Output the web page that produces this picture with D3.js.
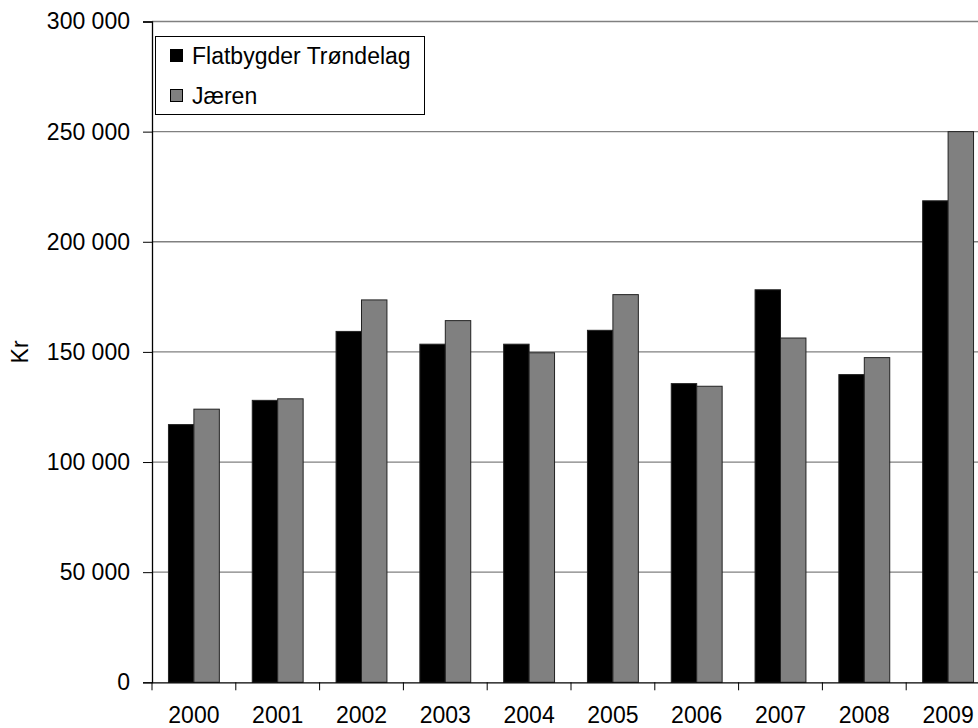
<!DOCTYPE html>
<html>
<head>
<meta charset="utf-8">
<script src="https://cdn.jsdelivr.net/npm/d3@7"></script>
<style>
  body { margin: 0; background: #fff; }
  text { font-family: Arial, "Liberation Sans", sans-serif; }
</style>
</head>
<body>
<div id="chart"></div>
<script>
// chart data
var years = ["2000", "2001", "2002", "2003", "2004", "2005", "2006", "2007", "2008", "2009"];
var seriesNames = ["Flatbygder Trøndelag", "Jæren"];
var trondelag = [117000, 128000, 159300, 153500, 153500, 159800, 135600, 178200, 139700, 218600];
var jaeren = [124000, 128700, 173600, 164200, 149600, 176000, 134400, 156300, 147400, 250000];
var yTicks = [0, 50000, 100000, 150000, 200000, 250000, 300000];
var colors = ["#000000", "#808080"];

var w = 978;
var h = 728;
var fontSize = 23;

var svg = d3.select("#chart").append("svg")
  .attr("width", w)
  .attr("height", h);

var plotLeft = 152, plotRight = 990, plotTop = 21.5, plotBottom = 682.3;

var x = d3.scaleBand().domain(years).range([plotLeft, plotRight]);
var x1 = d3.scaleBand().domain(seriesNames).range([0, x.bandwidth()]).paddingOuter(0.647);
var y = d3.scaleLinear().domain([0, 300000]).range([plotBottom, plotTop]);

var fmt = function(d) { return d3.format(",")(d).replace(/,/g, " "); };

// gridlines
svg.append("g").selectAll("line")
  .data(yTicks.slice(1))
  .enter().append("line")
  .attr("x1", plotLeft).attr("x2", w)
  .attr("y1", function(d) { return y(d); })
  .attr("y2", function(d) { return y(d); })
  .attr("stroke", "#808080")
  .attr("stroke-width", 1.3);

// bars
var rows = years.map(function(yr, i) {
  return { year: yr, values: [trondelag[i], jaeren[i]] };
});

var groups = svg.selectAll("g.year")
  .data(rows)
  .enter().append("g")
  .attr("class", "year")
  .attr("transform", function(d) { return "translate(" + x(d.year) + ",0)"; });

groups.selectAll("rect")
  .data(function(d) { return d.values.map(function(v, j) { return { name: seriesNames[j], value: v, j: j }; }); })
  .enter().append("rect")
  .attr("x", function(d) { return x1(d.name); })
  .attr("width", x1.bandwidth())
  .attr("y", function(d) { return y(d.value); })
  .attr("height", function(d) { return plotBottom - y(d.value); })
  .attr("fill", function(d) { return colors[d.j]; })
  .attr("stroke", "#222")
  .attr("stroke-width", 1);

// y axis
var yAxis = d3.axisLeft(y).tickValues(yTicks).tickFormat(fmt).tickSize(9).tickPadding(13);
var gy = svg.append("g").attr("transform", "translate(" + plotLeft + ",0)").call(yAxis);
gy.select(".domain").attr("stroke", "#000").attr("stroke-width", 1.3);
gy.selectAll(".tick line").attr("stroke", "#000");
gy.selectAll("text").attr("font-size", fontSize).attr("fill", "#000").attr("font-family", "Arial, 'Liberation Sans', sans-serif");

// x axis
var xAxis = d3.axisBottom(x).tickSize(0).tickPadding(24);
var gx = svg.append("g").attr("transform", "translate(0," + plotBottom + ")").call(xAxis);
gx.select(".domain").attr("stroke", "#000").attr("stroke-width", 1.3);
gx.selectAll("text").attr("font-size", fontSize).attr("fill", "#000").attr("font-family", "Arial, 'Liberation Sans', sans-serif");
// ticks between categories
gx.append("g").selectAll("line")
  .data(years)
  .enter().append("line")
  .attr("x1", function(d) { return x(d); })
  .attr("x2", function(d) { return x(d); })
  .attr("y1", 0).attr("y2", 8)
  .attr("stroke", "#000");

// axis title
svg.append("text")
  .attr("transform", "translate(28," + y(150000) + ") rotate(-90)")
  .attr("text-anchor", "middle")
  .attr("font-size", fontSize)
  .text("Kr");

// legend
var legend = svg.append("g");
legend.append("rect")
  .attr("x", 155.5).attr("y", 36.5)
  .attr("width", 269).attr("height", 78)
  .attr("fill", "#fff").attr("stroke", "#000");

var items = legend.selectAll("g.item")
  .data(seriesNames)
  .enter().append("g")
  .attr("class", "item")
  .attr("transform", function(d, i) { return "translate(170," + (56 + i * 40) + ")"; });

items.append("rect")
  .attr("x", 0.5).attr("y", -6.5)
  .attr("width", 12).attr("height", 12)
  .attr("fill", function(d, i) { return colors[i]; })
  .attr("stroke", "#000");

items.append("text")
  .attr("x", 22).attr("y", 0)
  .attr("dy", "0.35em")
  .attr("font-size", fontSize)
  .text(function(d) { return d; });
</script>
</body>
</html>
